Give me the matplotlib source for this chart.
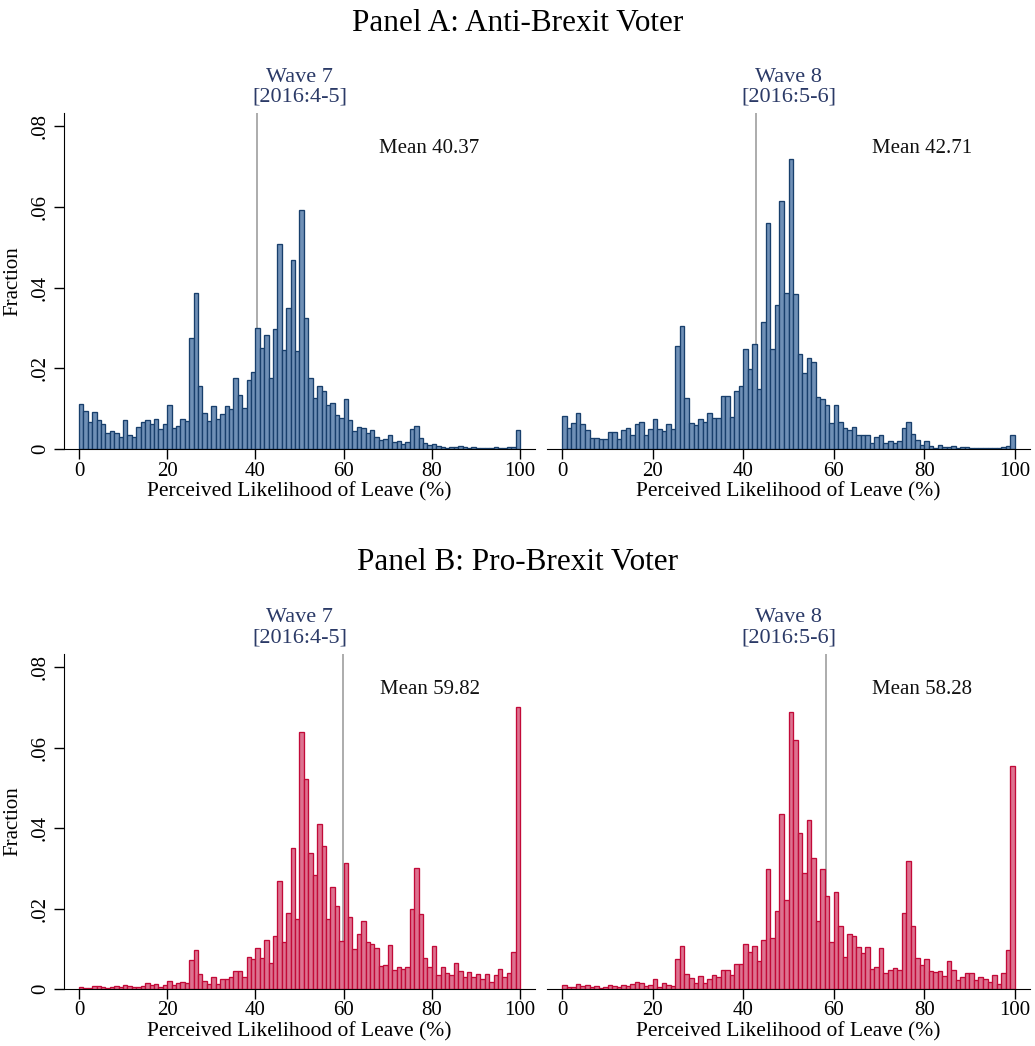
import numpy as np
import matplotlib
matplotlib.use('Agg')
import matplotlib.pyplot as plt

plt.rcParams['font.family'] = ['Liberation Serif', 'DejaVu Serif']

# fraction of respondents in each 1-point bin (0-1, 1-2, ..., 99-100)
anti_w7 = [0.0112, 0.0094, 0.0068, 0.0092, 0.0072, 0.0061, 0.0040, 0.0045, 0.0040, 0.0031,
           0.0071, 0.0034, 0.0031, 0.0055, 0.0068, 0.0073, 0.0062, 0.0075, 0.0050, 0.0061,
           0.0109, 0.0051, 0.0056, 0.0074, 0.0069, 0.0276, 0.0388, 0.0157, 0.0090, 0.0069,
           0.0107, 0.0074, 0.0088, 0.0107, 0.0100, 0.0176, 0.0133, 0.0102, 0.0172, 0.0191,
           0.0301, 0.0251, 0.0283, 0.0175, 0.0298, 0.0509, 0.0245, 0.0350, 0.0469, 0.0242,
           0.0593, 0.0326, 0.0175, 0.0127, 0.0157, 0.0143, 0.0110, 0.0113, 0.0084, 0.0077,
           0.0123, 0.0073, 0.0045, 0.0055, 0.0051, 0.0041, 0.0046, 0.0030, 0.0022, 0.0024,
           0.0034, 0.0017, 0.0019, 0.0013, 0.0017, 0.0050, 0.0056, 0.0028, 0.0014, 0.0011,
           0.0012, 0.0007, 0.0006, 0.0003, 0.0004, 0.0005, 0.0007, 0.0005, 0.0003, 0.0006,
           0.0003, 0.0003, 0.0003, 0.0003, 0.0004, 0.0003, 0.0002, 0.0004, 0.0006, 0.0046]

anti_w8 = [0.0083, 0.0052, 0.0065, 0.0090, 0.0061, 0.0047, 0.0028, 0.0028, 0.0026, 0.0026,
           0.0042, 0.0042, 0.0026, 0.0047, 0.0053, 0.0036, 0.0061, 0.0067, 0.0035, 0.0049,
           0.0075, 0.0049, 0.0045, 0.0061, 0.0050, 0.0256, 0.0305, 0.0127, 0.0065, 0.0060,
           0.0074, 0.0067, 0.0090, 0.0076, 0.0078, 0.0132, 0.0132, 0.0079, 0.0144, 0.0157,
           0.0249, 0.0198, 0.0261, 0.0150, 0.0314, 0.0560, 0.0247, 0.0357, 0.0615, 0.0388,
           0.0718, 0.0385, 0.0236, 0.0188, 0.0226, 0.0217, 0.0128, 0.0125, 0.0110, 0.0064,
           0.0110, 0.0068, 0.0053, 0.0048, 0.0055, 0.0036, 0.0036, 0.0034, 0.0016, 0.0031,
           0.0036, 0.0016, 0.0019, 0.0016, 0.0021, 0.0051, 0.0068, 0.0037, 0.0023, 0.0011,
           0.0020, 0.0007, 0.0003, 0.0009, 0.0004, 0.0006, 0.0007, 0.0003, 0.0006, 0.0006,
           0.0003, 0.0003, 0.0002, 0.0002, 0.0002, 0.0002, 0.0003, 0.0004, 0.0007, 0.0036]

pro_w7 = [0.0006, 0.0002, 0.0003, 0.0007, 0.0008, 0.0005, 0.0003, 0.0004, 0.0008, 0.0005,
          0.0009, 0.0007, 0.0005, 0.0005, 0.0007, 0.0015, 0.0009, 0.0013, 0.0005, 0.0011,
          0.0021, 0.0011, 0.0015, 0.0017, 0.0014, 0.0071, 0.0096, 0.0038, 0.0021, 0.0013,
          0.0031, 0.0012, 0.0024, 0.0026, 0.0030, 0.0045, 0.0045, 0.0031, 0.0079, 0.0074,
          0.0103, 0.0077, 0.0122, 0.0064, 0.0132, 0.0269, 0.0117, 0.0190, 0.0350, 0.0174,
          0.0640, 0.0521, 0.0339, 0.0283, 0.0410, 0.0355, 0.0174, 0.0254, 0.0207, 0.0120,
          0.0314, 0.0178, 0.0099, 0.0136, 0.0170, 0.0118, 0.0112, 0.0102, 0.0058, 0.0059,
          0.0110, 0.0048, 0.0055, 0.0050, 0.0054, 0.0200, 0.0302, 0.0187, 0.0078, 0.0054,
          0.0106, 0.0035, 0.0055, 0.0041, 0.0035, 0.0064, 0.0045, 0.0030, 0.0043, 0.0031,
          0.0038, 0.0025, 0.0038, 0.0017, 0.0035, 0.0050, 0.0029, 0.0040, 0.0093, 0.0702]

pro_w8 = [0.0009, 0.0006, 0.0006, 0.0012, 0.0008, 0.0009, 0.0004, 0.0007, 0.0003, 0.0006,
          0.0010, 0.0008, 0.0004, 0.0011, 0.0008, 0.0012, 0.0018, 0.0015, 0.0007, 0.0010,
          0.0025, 0.0005, 0.0015, 0.0011, 0.0007, 0.0074, 0.0106, 0.0037, 0.0028, 0.0014,
          0.0033, 0.0015, 0.0026, 0.0034, 0.0030, 0.0048, 0.0046, 0.0036, 0.0061, 0.0063,
          0.0112, 0.0091, 0.0106, 0.0069, 0.0121, 0.0299, 0.0127, 0.0193, 0.0434, 0.0221,
          0.0689, 0.0620, 0.0388, 0.0289, 0.0419, 0.0326, 0.0169, 0.0298, 0.0232, 0.0117,
          0.0240, 0.0156, 0.0079, 0.0136, 0.0131, 0.0105, 0.0090, 0.0104, 0.0049, 0.0055,
          0.0102, 0.0040, 0.0047, 0.0052, 0.0048, 0.0190, 0.0319, 0.0157, 0.0076, 0.0060,
          0.0075, 0.0045, 0.0042, 0.0044, 0.0033, 0.0069, 0.0048, 0.0022, 0.0029, 0.0039,
          0.0039, 0.0022, 0.0030, 0.0024, 0.0017, 0.0036, 0.0012, 0.0040, 0.0096, 0.0555]

means = [40.37, 42.71, 59.82, 58.28]
wave_titles = ['Wave 7\n[2016:4-5]', 'Wave 8\n[2016:5-6]']
panel_titles = ['Panel A: Anti-Brexit Voter', 'Panel B: Pro-Brexit Voter']
bin_left = np.arange(100)
xticks = [0, 20, 40, 60, 80, 100]
yticks = [0, 0.02, 0.04, 0.06, 0.08]
ytick_labels = ['0', '.02', '.04', '.06', '.08']

blue_edge = '#183f6c'
blue_fill = '#6f90b6'
red_edge = '#c20a38'
red_fill = '#dd7290'
title_color = '#2b3a67'

fig = plt.figure(figsize=(10.35, 10.46), dpi=100)

# [left, bottom, width, height] in figure fraction
positions = [
    [0.0618, 0.5707, 0.4551, 0.3212],
    [0.5285, 0.5707, 0.4667, 0.3212],
    [0.0618, 0.0545, 0.4551, 0.3203],
    [0.5285, 0.0545, 0.4667, 0.3203],
]
series = [anti_w7, anti_w8, pro_w7, pro_w8]
edges = [blue_edge, blue_edge, red_edge, red_edge]
fills = [blue_fill, blue_fill, red_fill, red_fill]

for i in range(4):
    ax = fig.add_axes(positions[i])
    ax.bar(bin_left, series[i], width=1, align='edge', color=fills[i],
           edgecolor=edges[i], linewidth=0.95, zorder=2)
    ax.axvline(means[i], color='#a6a6a6', linewidth=1.3, zorder=1)
    ax.text(79.5, 0.0745, 'Mean %.2f' % means[i], ha='center', va='center',
            fontsize=15, color='#111111')
    ax.set_title(wave_titles[i % 2], color=title_color, fontsize=16,
                 linespacing=1.1, pad=8)
    ax.set_xlim(-3.4, 103.4)
    ax.set_ylim(0, 0.0833)
    ax.set_xticks(xticks)
    ax.set_xticklabels([str(t) for t in xticks], fontsize=15)
    ax.tick_params(axis='x', length=7, width=1, pad=2)
    ax.set_xlabel('Perceived Likelihood of Leave (%)', fontsize=15.5, labelpad=1)
    ax.spines['top'].set_visible(False)
    ax.spines['right'].set_visible(False)
    if i % 2 == 0:
        ax.set_yticks(yticks)
        ax.set_yticklabels(ytick_labels, fontsize=15, rotation=90, va='center')
        ax.tick_params(axis='y', length=7, width=1, pad=3)
        ax.set_ylabel('Fraction', fontsize=15, labelpad=6)
    else:
        ax.spines['left'].set_visible(False)
        ax.set_yticks([])

fig.text(0.5, 0.978, panel_titles[0], ha='center', va='center', fontsize=22.5)
fig.text(0.5, 0.462, panel_titles[1], ha='center', va='center', fontsize=22.5)

plt.savefig('out.png', dpi=100)
plt.close()
